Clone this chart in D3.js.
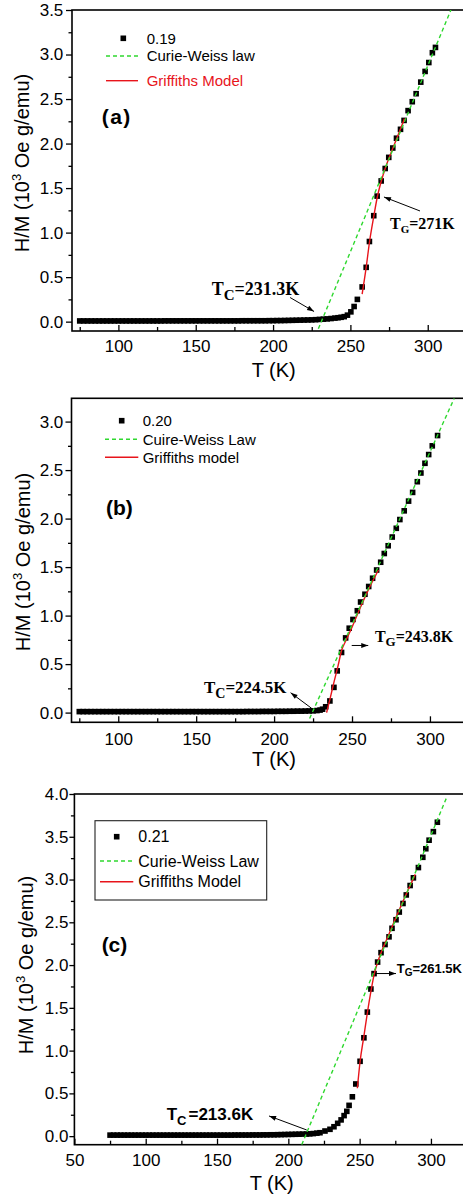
<!DOCTYPE html>
<html><head><meta charset="utf-8">
<script src="https://cdn.jsdelivr.net/npm/d3@7"></script>
<style>body{margin:0;background:#fff}svg{display:block}</style>
</head><body>
<svg id="chart" width="463" height="1196"></svg>
<script>
// ---------------- DATA ----------------
// Panel (a) x = 0.19
const tempA = [75,77.5,80,82.5,85,87.5,90,92.5,95,97.5,
  100,102.5,105,107.5,110,112.5,115,117.5,120,122.5,
  125,127.5,130,132.5,135,137.5,140,142.5,145,147.5,
  150,152.5,155,157.5,160,162.5,165,167.5,170,172.5,
  175,177.5,180,182.5,185,187.5,190,192.5,195,197.5,
  200,202.5,205,207.5,210,212.5,215,217.5,220,222.5,
  225,227.5,230,232.5,235,237.5,240,242,244,246,
  248.1,250.3,252.4,254.5,257.6,260.2,262.3,265.1,267.3,269.9,
  272.5,274.8,277.4,279.8,282.4,284.7,287.3,290,292.5,295.5,
  298.3,300.7,303,305];
const hmA = [0.008,0.008,0.008,0.008,0.008,0.008,0.008,0.008,0.008,0.008,
  0.008,0.008,0.008,0.008,0.008,0.008,0.008,0.008,0.008,0.008,
  0.008,0.008,0.009,0.009,0.009,0.009,0.009,0.009,0.009,0.009,
  0.009,0.009,0.009,0.009,0.009,0.009,0.009,0.009,0.009,0.009,
  0.009,0.009,0.01,0.01,0.01,0.01,0.01,0.01,0.01,0.011,
  0.011,0.012,0.012,0.013,0.014,0.015,0.016,0.017,0.018,0.019,
  0.02,0.022,0.025,0.028,0.031,0.035,0.04,0.044,0.049,0.056,
  0.073,0.11,0.17,0.25,0.39,0.61,0.90,1.19,1.41,1.58,
  1.72,1.845,1.95,2.06,2.16,2.26,2.37,2.47,2.56,2.69,
  2.81,2.91,3.02,3.08];
const cwTempA = [229.3, 315];
const cwHmA = [-0.08, 3.5];
const grTempA = [257.6,260.2,262.4,265,267.4,270,272.5,275,280,285];
const grHmA = [0.31,0.61,0.9,1.17,1.4,1.58,1.72,1.84,2.06,2.28];

// Panel (b) x = 0.20
const tempB = [75,77.5,80,82.5,85,87.5,90,92.5,95,97.5,
  100,102.5,105,107.5,110,112.5,115,117.5,120,122.5,
  125,127.5,130,132.5,135,137.5,140,142.5,145,147.5,
  150,152.5,155,157.5,160,162.5,165,167.5,170,172.5,
  175,177.5,180,182.5,185,187.5,190,192.5,195,197.5,
  200,202.5,205,207.5,210,212.5,215,217.5,220,222.5,
  225,227.5,229.5,231.1,233.1,235.8,238.4,240.5,243.3,245.9,
  248.2,250.6,253.4,255.5,258.3,260.7,263.2,265.8,268.4,270.7,
  273.2,275.8,278.4,280.7,283.5,286.3,288.9,291.9,294.2,296.8,
  299.2,301.5,304.9];
const hmB = [0.01,0.01,0.01,0.01,0.01,0.01,0.01,0.01,0.01,0.01,
  0.01,0.01,0.01,0.01,0.01,0.01,0.01,0.01,0.01,0.01,
  0.01,0.01,0.01,0.01,0.01,0.01,0.01,0.01,0.01,0.01,
  0.01,0.01,0.01,0.01,0.01,0.01,0.01,0.01,0.01,0.01,
  0.01,0.01,0.01,0.011,0.011,0.011,0.011,0.012,0.012,0.012,
  0.012,0.013,0.013,0.013,0.014,0.014,0.015,0.015,0.016,0.017,
  0.018,0.021,0.026,0.035,0.06,0.12,0.26,0.43,0.62,0.77,
  0.87,0.96,1.05,1.14,1.22,1.30,1.385,1.47,1.55,1.64,
  1.72,1.81,1.90,1.99,2.08,2.18,2.27,2.38,2.47,2.57,
  2.66,2.75,2.856];
const cwTempB = [222.8, 315.6];
const cwHmB = [-0.06, 3.24];
const grTempB = [233.7,236,238.5,241,243.4,246,250,255,260,267];
const grHmB = [0.0,0.15,0.32,0.48,0.645,0.74,0.88,1.07,1.25,1.47];

// Panel (c) x = 0.21
const tempC = [75,77.5,80,82.5,85,87.5,90,92.5,95,97.5,
  100,102.5,105,107.5,110,112.5,115,117.5,120,122.5,
  125,127.5,130,132.5,135,137.5,140,142.5,145,147.5,
  150,152.5,155,157.5,160,162.5,165,167.5,170,172.5,
  175,177.5,180,182.5,185,187.5,190,192.5,195,197.5,
  200,202.5,205,207.5,210,212.8,215,217.5,220,222.2,
  225.7,229.2,232,234.6,237,239.1,241,242.6,244.9,247.3,
  250.3,253,255.4,257.9,260.1,262.6,265,267.8,270.6,272.7,
  275.5,277.8,280.4,282.7,285.4,287.7,291.2,294.3,296.4,298.7,
  301.7,304.5];
const hmC = [0.012,0.012,0.012,0.012,0.012,0.012,0.012,0.012,0.012,0.012,
  0.012,0.012,0.012,0.012,0.012,0.012,0.012,0.012,0.012,0.012,
  0.012,0.012,0.012,0.012,0.012,0.012,0.012,0.012,0.012,0.012,
  0.012,0.012,0.012,0.012,0.012,0.013,0.013,0.013,0.013,0.013,
  0.014,0.014,0.014,0.015,0.015,0.016,0.016,0.017,0.018,0.019,
  0.02,0.021,0.022,0.023,0.024,0.025,0.027,0.03,0.035,0.04,
  0.06,0.08,0.11,0.15,0.19,0.24,0.29,0.36,0.46,0.61,
  0.875,1.15,1.45,1.72,1.90,2.035,2.145,2.24,2.33,2.43,
  2.53,2.62,2.72,2.82,2.93,3.02,3.14,3.26,3.36,3.46,
  3.56,3.67];
const cwTempC = [209.4, 311.3];
const cwHmC = [-0.1, 3.97];
const grTempC = [248.4,250.3,253,255.5,258,260.3,263,270,280,289];
const grHmC = [0.56,0.87,1.17,1.45,1.7,1.9,2.05,2.34,2.73,3.06];

// Ticks
const xTicksAB = [100,150,200,250,300];
const xMinorAB = [75,125,175,225,275,325];
const xTicksC = [50,100,150,200,250,300];
const xMinorC = [75,125,175,225,275,325];
const yTicksA = [0,0.5,1.0,1.5,2.0,2.5,3.0,3.5];
const yMinorA = [0.25,0.75,1.25,1.75,2.25,2.75,3.25];
const yTicksB = [0,0.5,1.0,1.5,2.0,2.5,3.0];
const yMinorB = [0.25,0.75,1.25,1.75,2.25,2.75,3.25];
const yTicksC = [0,0.5,1.0,1.5,2.0,2.5,3.0,3.5,4.0];
const yMinorC = [0.25,0.75,1.25,1.75,2.25,2.75,3.25,3.75];

// Legend labels
const legendA = ["0.19","Curie-Weiss law","Griffiths Model"];
const legendB = ["0.20","Cuire-Weiss Law","Griffiths model"];
const legendC = ["0.21","Curie-Weiss Law","Griffiths Model"];

// ---------------- DRAW ----------------
const SANS = "'Liberation Sans', Arial, sans-serif";
const SERIF = "'Liberation Serif', 'Times New Roman', serif";
const GREEN = "#2fd82f", RED = "#e8141b";
const svg = d3.select("#chart");
svg.append("defs").append("marker")
  .attr("id","arr").attr("viewBox","0 0 10 10").attr("refX",10).attr("refY",5)
  .attr("markerWidth",8).attr("markerHeight",7).attr("markerUnits","userSpaceOnUse")
  .attr("orient","auto")
  .append("path").attr("d","M0,1.5 L10,5 L0,8.5 z").attr("fill","#000");

function sub(sel, parts){
  parts.forEach(p=>{
    const t = sel.append("tspan").text(p.t);
    if(p.fs) t.attr("font-size",p.fs);
    if(p.dy) t.attr("dy",p.dy);
    if(p.dx) t.attr("dx",p.dx);
  });
}

function panel(p){
  const x = d3.scaleLinear().domain(p.xDom).range(p.xRange);
  const y = d3.scaleLinear().domain(p.yDom).range(p.yRange);
  const [x0,x1] = p.xRange, [yb,yt] = p.yRange;
  const g = svg.append("g");

  const cid = "clip"+p.id;
  g.append("clipPath").attr("id",cid).append("rect")
    .attr("x",x0).attr("y",yt).attr("width",x1-x0).attr("height",yb-yt);

  // x axis (ticks inward)
  const xa = g.append("g").attr("transform",`translate(0,${yb})`)
    .call(d3.axisBottom(x).tickValues(p.xTicks).tickSize(-6).tickPadding(p.xPad).tickFormat(d3.format("d")));
  const xm = g.append("g").attr("transform",`translate(0,${yb})`)
    .call(d3.axisBottom(x).tickValues(p.xMinor.filter(v=>v<=p.xDom[1])).tickSize(-4).tickFormat(""));
  // y axis (ticks outward)
  const ya = g.append("g").attr("transform",`translate(${x0},0)`)
    .call(d3.axisLeft(y).tickValues(p.yTicks).tickSize(p.yTick).tickPadding(p.yPad).tickFormat(d3.format(".1f")));
  const ym = g.append("g").attr("transform",`translate(${x0},0)`)
    .call(d3.axisLeft(y).tickValues(p.yMinor.filter(v=>v<=p.yDom[1])).tickSize(3.5).tickFormat(""));
  [xa,xm,ya,ym].forEach(a=>{
    a.select(".domain").remove();
    a.selectAll("line").attr("stroke","#000").attr("stroke-width",1.3);
    a.selectAll("text").attr("font-family",SANS).attr("font-size",17).attr("fill","#000");
  });
  g.append("rect").attr("x",x0).attr("y",yt).attr("width",x1-x0).attr("height",yb-yt)
    .attr("fill","none").attr("stroke","#000").attr("stroke-width",1.6);

  // axis titles
  g.append("text").attr("x",p.xTitle[0]).attr("y",p.xTitle[1]).attr("text-anchor","middle")
    .attr("font-family",SANS).attr("font-size",20).text("T (K)");
  const yt_ = g.append("text").attr("transform",`translate(${p.yTitle[0]},${p.yTitle[1]}) rotate(-90)`)
    .attr("text-anchor","middle").attr("font-family",SANS).attr("font-size",20);
  yt_.append("tspan").text("H/M (10");
  yt_.append("tspan").text("3").attr("font-size",13).attr("dy",-8);
  yt_.append("tspan").text(" Oe g/emu)").attr("dy",8);

  // data
  const pts = d3.zip(p.T, p.V);
  const ms = 5.6;
  g.append("g").attr("clip-path",`url(#${cid})`).selectAll("rect").data(pts).join("rect")
    .attr("x",d=>x(d[0])-ms/2).attr("y",d=>y(d[1])-ms/2).attr("width",ms).attr("height",ms)
    .attr("fill","#000");
  const line = d3.line().x(d=>x(d[0])).y(d=>y(d[1]));
  g.append("path").attr("d",line.curve(d3.curveMonotoneX)(d3.zip(p.grT,p.grV)))
    .attr("fill","none").attr("stroke",RED).attr("stroke-width",1.4);
  g.append("path").attr("d",d3.line().x(d=>x(d[0])).y(d=>y(d[1]))(d3.zip(p.cwT,p.cwV)))
    .attr("fill","none").attr("stroke",GREEN).attr("stroke-width",1.4).attr("stroke-dasharray","4,3")
    .attr("clip-path",`url(#${cid})`);

  // panel label
  g.append("text").attr("x",x(p.label.T)).attr("y",y(p.label.V))
    .attr("font-family",SANS).attr("font-weight","bold").attr("font-size",p.label.fs)
    .attr("letter-spacing",p.label.ls||0).text(p.label.text);

  // annotations
  p.notes.forEach(n=>{
    const t = g.append("text").attr("x",x(n.T)).attr("y",y(n.V))
      .attr("font-family",n.serif?SERIF:SANS).attr("font-weight","bold").attr("font-size",n.fs);
    sub(t, n.parts);
    g.append("line").attr("x1",x(n.a[0])).attr("y1",y(n.a[1])).attr("x2",x(n.a[2])).attr("y2",y(n.a[3]))
      .attr("stroke","#000").attr("stroke-width",1).attr("marker-end","url(#arr)");
  });

  // legend
  const L = p.legend;
  if(L.box){
    g.append("rect").attr("x",L.box[0]).attr("y",L.box[1]).attr("width",L.box[2]).attr("height",L.box[3])
      .attr("fill","#fff").attr("stroke","#222").attr("stroke-width",1.1);
  }
  g.append("rect").attr("x",L.mx-ms/2).attr("y",L.rows[0]-ms/2).attr("width",ms).attr("height",ms).attr("fill","#000");
  g.append("line").attr("x1",L.lx[0]).attr("x2",L.lx[1]).attr("y1",L.rows[1]).attr("y2",L.rows[1])
    .attr("stroke",GREEN).attr("stroke-width",1.4).attr("stroke-dasharray","4,3");
  g.append("line").attr("x1",L.lx[0]).attr("x2",L.lx[1]).attr("y1",L.rows[2]).attr("y2",L.rows[2])
    .attr("stroke",RED).attr("stroke-width",1.4);
  L.labels.forEach((s,i)=>{
    g.append("text").attr("x",L.tx).attr("y",L.rows[i]).attr("dy","0.36em")
      .attr("font-family",SANS).attr("font-size",L.fs)
      .attr("fill", (i===2 && L.redText)?RED:"#000").text(s);
  });
}

panel({id:"a", T:tempA, V:hmA, cwT:cwTempA, cwV:cwHmA, grT:grTempA, grV:grHmA,
  xDom:[70,325], xRange:[72,466.4], yDom:[-0.105,3.5], yRange:[331,10],
  xTicks:xTicksAB, xMinor:xMinorAB, yTicks:yTicksA, yMinor:yMinorA, xPad:9, yPad:2.7, yTick:6,
  xTitle:[273.7,377], yTitle:[28.5,163],
  label:{text:"(a)", T:89.2, V:2.22, fs:21, ls:1.5},
  notes:[
    {T:160.3, V:0.299, fs:18, serif:true, parts:[{t:"T"},{t:"C",fs:15,dy:5},{t:"=231.3K",fs:18,dy:-5}], a:[211.0,0.271,226.5,0.114]},
    {T:275.6, V:1.037, fs:16, serif:true, parts:[{t:"T"},{t:"G",fs:11,dy:4},{t:"=271K",fs:16,dy:-4}], a:[295.0,1.243,271.7,1.40]}
  ],
  legend:{mx:123.3, lx:[106,138], tx:146.7, rows:[38.3,56,80.7], fs:15, labels:legendA, redText:true}
});

panel({id:"b", T:tempB, V:hmB, cwT:cwTempB, cwV:cwHmB, grT:grTempB, grV:grHmB,
  xDom:[70,325], xRange:[71.5,468.9], yDom:[-0.1,3.24], yRange:[722.3,398.3],
  xTicks:xTicksAB, xMinor:xMinorAB, yTicks:yTicksB, yMinor:yMinorB, xPad:10.5, yPad:2.2, yTick:6,
  xTitle:[274,766], yTitle:[30,562],
  label:{text:"(b)", T:92.1, V:2.04, fs:21},
  notes:[
    {T:155.0, V:0.199, fs:17, serif:true, parts:[{t:"T"},{t:"C",fs:14,dy:5},{t:"=224.5K",fs:17,dy:-5}], a:[224.1,0.044,210.6,0.205]},
    {T:264.7, V:0.728, fs:16, serif:true, parts:[{t:"T"},{t:"G",fs:13,dy:4},{t:"=243.8K",fs:16,dy:-4}], a:[249.8,0.692,260.4,0.692]}
  ],
  legend:{mx:121.7, lx:[105,138.3], tx:142.7, rows:[420.7,439.3,457.3], fs:15, labels:legendB}
});

panel({id:"c", T:tempC, V:hmC, cwT:cwTempC, cwV:cwHmC, grT:grTempC, grV:grHmC,
  xDom:[50,325], xRange:[74.4,466.6], yDom:[-0.1,4.0], yRange:[1144.7,794],
  xTicks:xTicksC, xMinor:xMinorC, yTicks:yTicksC, yMinor:yMinorC, xPad:9.3, yPad:1, yTick:5,
  xTitle:[271.7,1190], yTitle:[33,965],
  label:{text:"(c)", T:69.1, V:2.15, fs:21},
  notes:[
    {T:114.7, V:0.189, fs:17, serif:false, parts:[{t:"T"},{t:"C",fs:13,dy:5},{t:"=213.6K",fs:17,dy:-5,dx:2}], a:[212.9,0.072,186.5,0.236]},
    {T:276.0, V:1.904, fs:13, serif:false, parts:[{t:"T"},{t:"G",fs:10,dy:3},{t:"=261.5K",fs:13,dy:-3}], a:[261.5,1.901,275.5,1.901]}
  ],
  legend:{box:[95,820.7,171.7,79.3], mx:116.7, lx:[100,133.3], tx:138.3, rows:[836.7,861,881.7], fs:16, labels:legendC}
});
</script>
</body></html>
